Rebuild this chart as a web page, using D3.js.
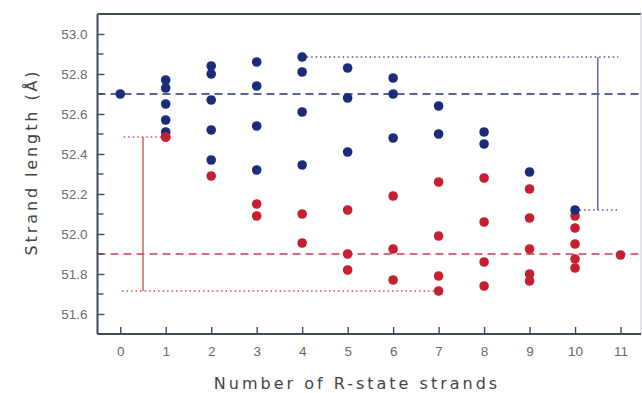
<!DOCTYPE html>
<html>
<head>
<meta charset="utf-8">
<script src="https://cdn.jsdelivr.net/npm/d3@7"></script>
<style>
  body { margin: 0; background: #fff; }
  svg { display: block; }
</style>
</head>
<body>
<svg id="chart" width="642" height="393"></svg>
<script>
// number of R-state strands on the x axis
var strandCounts = [0, 1, 2, 3, 4, 5, 6, 7, 8, 9, 10, 11];

// T-state strand lengths (blue), one list per strand count
var blueLengths = [
    [52.70],
    [52.77, 52.73, 52.65, 52.57, 52.51],
    [52.84, 52.80, 52.67, 52.52, 52.37],
    [52.86, 52.74, 52.54, 52.32],
    [52.885, 52.81, 52.61, 52.345],
    [52.83, 52.68, 52.41],
    [52.78, 52.70, 52.48],
    [52.64, 52.50],
    [52.51, 52.45],
    [52.31],
    [52.12],
    []
];

// R-state strand lengths (red)
var redLengths = [
    [],
    [52.485],
    [52.29],
    [52.15, 52.09],
    [52.10, 51.955],
    [52.12, 51.90, 51.82],
    [52.19, 51.925, 51.77],
    [52.26, 51.99, 51.79, 51.715],
    [52.28, 52.06, 51.86, 51.74],
    [52.225, 52.08, 51.925, 51.80, 51.765],
    [52.09, 52.03, 51.95, 51.875, 51.83],
    [51.895]
];

var yTicks = [51.6, 51.8, 52.0, 52.2, 52.4, 52.6, 52.8, 53.0];
var yMinorTicks = [51.5, 51.7, 51.9, 52.1, 52.3, 52.5, 52.7, 52.9];

// mean lines and spread brackets
var blueMean = 52.70;
var redMean = 51.90;
var blueBracket = {x: 10.5, top: 52.885, bottom: 52.12, topFrom: 4, bottomFrom: 10, end: 10.95};
var redBracket = {x: 0.5, top: 52.485, bottom: 51.715, topFrom: 1, bottomFrom: 7, end: 0.03};

var blue = '#1b2d7a';
var red = '#c61f30';
var axisColor = '#3d4b5c';
var dotR = 4.8;

var svg = d3.select('#chart');

var xScale = d3.scaleLinear().domain([-0.5, 11.45]).range([97.5, 641]);
var yScale = d3.scaleLinear().domain([51.5, 53.1]).range([334, 14]);

var plotG = svg.append('g');

// dashed mean lines
plotG.append('line')
    .attr('x1', xScale(-0.5)).attr('x2', xScale(11.45))
    .attr('y1', yScale(blueMean)).attr('y2', yScale(blueMean))
    .attr('stroke', '#22337e').attr('stroke-width', 1.6)
    .attr('stroke-dasharray', '8,5');

plotG.append('line')
    .attr('x1', xScale(-0.5)).attr('x2', xScale(11.45))
    .attr('y1', yScale(redMean)).attr('y2', yScale(redMean))
    .attr('stroke', '#c8404a').attr('stroke-width', 1.6)
    .attr('stroke-dasharray', '8,5');

// brackets showing spread
function drawBracket(b, dotColor, lineColor) {
    plotG.append('line')
        .attr('x1', xScale(b.topFrom)).attr('x2', xScale(b.end))
        .attr('y1', yScale(b.top)).attr('y2', yScale(b.top))
        .attr('stroke', dotColor).attr('stroke-width', 1.3)
        .attr('stroke-dasharray', '1.5,3');
    plotG.append('line')
        .attr('x1', xScale(b.bottomFrom)).attr('x2', xScale(b.end))
        .attr('y1', yScale(b.bottom)).attr('y2', yScale(b.bottom))
        .attr('stroke', dotColor).attr('stroke-width', 1.3)
        .attr('stroke-dasharray', '1.5,3');
    plotG.append('line')
        .attr('x1', xScale(b.x)).attr('x2', xScale(b.x))
        .attr('y1', yScale(b.top)).attr('y2', yScale(b.bottom))
        .attr('stroke', lineColor).attr('stroke-width', 1.4);
}
drawBracket(blueBracket, '#4a5aa0', '#5a6090');
drawBracket(redBracket, '#d05058', '#c0605a');

// flatten groups into points
function toPoints(groups) {
    var pts = [];
    groups.forEach(function(vals, i) {
        vals.forEach(function(v) {
            pts.push({n: strandCounts[i], v: v});
        });
    });
    return pts;
}

plotG.selectAll('.red-dot')
    .data(toPoints(redLengths))
    .enter().append('circle')
    .attr('class', 'red-dot')
    .attr('cx', function(d) { return xScale(d.n); })
    .attr('cy', function(d) { return yScale(d.v); })
    .attr('r', dotR)
    .attr('fill', red);

plotG.selectAll('.blue-dot')
    .data(toPoints(blueLengths))
    .enter().append('circle')
    .attr('class', 'blue-dot')
    .attr('cx', function(d) { return xScale(d.n); })
    .attr('cy', function(d) { return yScale(d.v); })
    .attr('r', dotR)
    .attr('fill', blue);

// red dot at 1 sits on top of the lowest blue one
plotG.selectAll('.red-top')
    .data(toPoints(redLengths).filter(function(d) { return d.n == 1; }))
    .enter().append('circle')
    .attr('cx', function(d) { return xScale(d.n); })
    .attr('cy', function(d) { return yScale(d.v); })
    .attr('r', dotR)
    .attr('fill', red);

// frame
var x0 = xScale(-0.5), x1 = xScale(11.45);
svg.append('line').attr('x1', x0).attr('x2', x1).attr('y1', 14).attr('y2', 14)
    .attr('stroke', axisColor).attr('stroke-width', 2);
svg.append('line').attr('x1', x1).attr('x2', x1).attr('y1', 14).attr('y2', 334)
    .attr('stroke', '#c8ccd4').attr('stroke-width', 1);

// axes with inward ticks
var xAxis = d3.axisBottom(xScale).tickValues(strandCounts).tickSize(-7).tickPadding(12)
    .tickFormat(d3.format('d'));
var xAxisG = svg.append('g')
    .attr('transform', 'translate(0,334)')
    .call(xAxis);

var yAxis = d3.axisLeft(yScale).tickValues(yTicks).tickSize(-7).tickPadding(10)
    .tickFormat(d3.format('.1f'));
var yAxisG = svg.append('g')
    .attr('transform', 'translate(' + x0 + ',0)')
    .call(yAxis);

yAxisG.selectAll('.minor')
    .data(yMinorTicks)
    .enter().append('line')
    .attr('class', 'minor')
    .attr('x1', 0).attr('x2', 6)
    .attr('y1', function(d) { return yScale(d); })
    .attr('y2', function(d) { return yScale(d); })
    .attr('stroke', axisColor).attr('stroke-width', 1.4);

[xAxisG, yAxisG].forEach(function(g) {
    g.select('.domain').attr('stroke', axisColor).attr('stroke-width', 2);
    g.selectAll('.tick line').attr('stroke', axisColor).attr('stroke-width', 1.4);
    g.selectAll('.tick text')
        .attr('fill', '#6a6a6a')
        .style('font-family', 'Liberation Sans, Arial, sans-serif')
        .style('font-size', '13.5px');
});
yAxisG.select('.domain').attr('d', 'M0,14V334');
xAxisG.select('.domain').attr('d', 'M' + x0 + ',0H' + x1);

// axis titles
svg.append('text')
    .attr('x', 357).attr('y', 389)
    .attr('text-anchor', 'middle')
    .attr('fill', '#444')
    .style('font-family', 'DejaVu Sans, sans-serif')
    .style('font-size', '16px')
    .style('letter-spacing', '3px')
    .text('Number of R-state strands');

svg.append('text')
    .attr('transform', 'translate(37,162) rotate(-90)')
    .attr('text-anchor', 'middle')
    .attr('fill', '#444')
    .style('font-family', 'DejaVu Sans, sans-serif')
    .style('font-size', '16px')
    .style('letter-spacing', '2.9px')
    .text('Strand length (Å)');
</script>
</body>
</html>
